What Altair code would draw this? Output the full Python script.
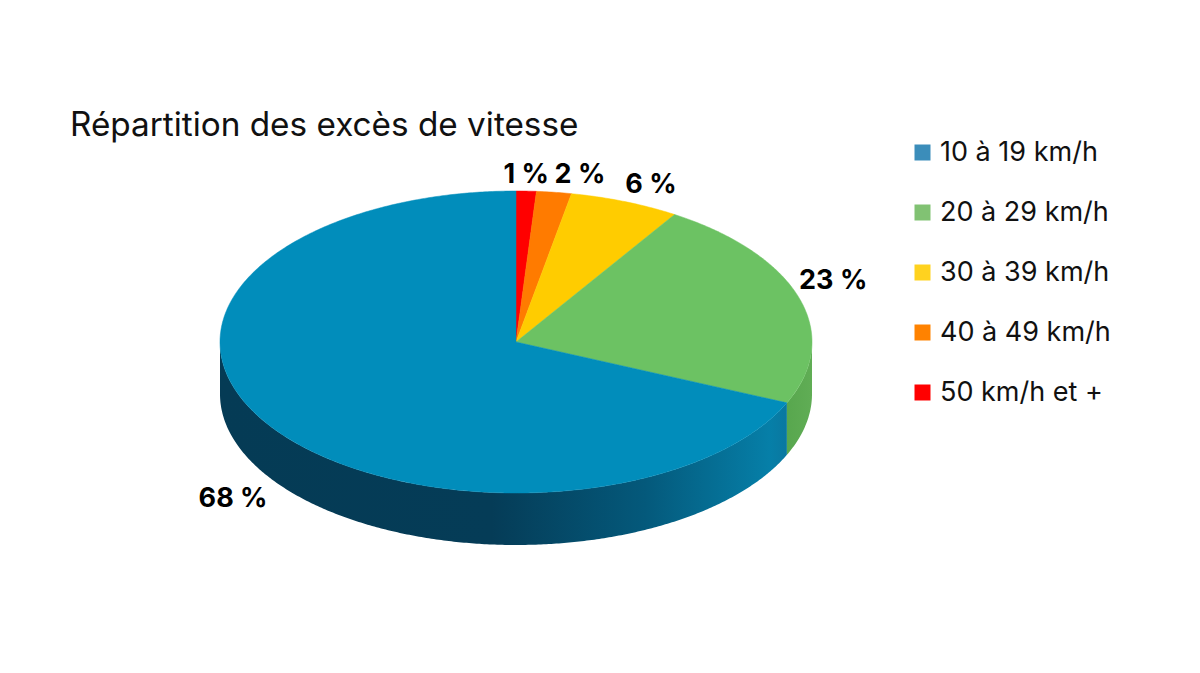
import math
import altair as alt
import pandas as pd

# --- data ---
categories = ["10 à 19 km/h", "20 à 29 km/h", "30 à 39 km/h", "40 à 49 km/h", "50 km/h et +"]
shares = [68.4, 22.6, 6, 1.9, 1.1]
share_labels = ["68 %", "23 %", "6 %", "2 %", "1 %"]
slice_colors = ["#018dbb", "#6cc263", "#ffcc00", "#ff7b00", "#ff0000"]
legend_colors = ["#3b8dba", "#81c273", "#ffd21f", "#ff8200", "#ff0000"]
title_text = "Répartition des excès de vitesse"

# --- geometry / layout constants ---
W, H = 1184, 657
CX, CY, RX, RY, DEPTH = 508, 334, 296, 151, 52
FONT = "Inter"
xscale = alt.Scale(domain=[-CX / RX, (W - CX) / RX], range=[0, W], nice=False, zero=False)
yscale = alt.Scale(domain=[-(H - CY) / RY, CY / RY], range=[H, 0], nice=False, zero=False)
X = lambda f="x": alt.X(f"{f}:Q", scale=xscale, axis=None)
Y = lambda f="y": alt.Y(f"{f}:Q", scale=yscale, axis=None)

# Slices run clockwise from 12 o'clock: smallest class first, largest last
order = list(range(len(shares)))[::-1]
total = sum(shares)
bounds = {}
acc = 0
for i in order:
    bounds[i] = (acc / total * 360, (acc + shares[i]) / total * 360)
    acc += shares[i]


def rim(deg):
    r = math.radians(deg)
    return math.sin(r), math.cos(r)


def arc(a, b, step=0.5):
    n = max(2, int((b - a) / step) + 1)
    return [a + (b - a) * k / n for k in range(n + 1)]


# top face
rows = []
for i in order:
    a, b = bounds[i]
    pts = [(0.0, 0.0)] + [rim(d) for d in arc(a, b)] + [(0.0, 0.0)]
    for k, (x, y) in enumerate(pts):
        rows.append({"cat": categories[i], "x": x, "y": y, "k": k})
top_df = pd.DataFrame(rows)

color_fill = alt.Fill("cat:N", scale=alt.Scale(domain=categories, range=slice_colors), legend=None)
color_stroke = alt.Stroke("cat:N", scale=alt.Scale(domain=categories, range=slice_colors), legend=None)
top = (
    alt.Chart(top_df)
    .mark_line(strokeWidth=0.5, interpolate="linear")
    .encode(x=X(), y=Y(), fill=color_fill, stroke=color_stroke, order="k:Q", detail="cat:N")
)


# side walls (visible lower half only)
def wall(a, b):
    d = DEPTH / RY
    return pd.DataFrame(
        [{"x": rim(t)[0], "y": rim(t)[1], "y2": rim(t)[1] - d} for t in arc(a, b)]
    )


green_a = 90
green_b = bounds[1][1]
blue_a = bounds[0][0]
blue_b = 270

blue_grad = alt.Gradient(
    gradient="linear", x1=0, x2=1, y1=0, y2=0,
    stops=[
        alt.GradientStop(offset=0, color="#053b55"),
        alt.GradientStop(offset=0.48, color="#053c57"),
        alt.GradientStop(offset=0.75, color="#04597b"),
        alt.GradientStop(offset=0.97, color="#067fa8"),
        alt.GradientStop(offset=1, color="#0a78a0"),
    ],
)
green_grad = alt.Gradient(
    gradient="linear", x1=0, x2=1, y1=0, y2=0,
    stops=[
        alt.GradientStop(offset=0, color="#58a74e"),
        alt.GradientStop(offset=1, color="#60ad55"),
    ],
)
side_blue = alt.Chart(wall(blue_a, blue_b)).mark_area(color=blue_grad, interpolate="linear").encode(
    x=X(), y=Y(), y2="y2:Q"
)
side_green = alt.Chart(wall(green_a, green_b)).mark_area(color=green_grad, interpolate="linear").encode(
    x=X(), y=Y(), y2="y2:Q"
)

# share labels, anchored on the rim at the middle of each slice
label_nudges = {0: (-35, 74), 1: (34, -17), 2: (26, -17), 3: (26, -17), 4: (0, -16)}
labels = []
for i in order:
    mx, my = rim(sum(bounds[i]) / 2)
    dx, dy = label_nudges[i]
    labels.append(
        alt.Chart(pd.DataFrame([{"x": mx, "y": my, "t": share_labels[i]}]))
        .mark_text(font=FONT, fontSize=27, fontWeight=700, color="#000000", dx=dx, dy=dy, baseline="middle", align="center")
        .encode(x=X(), y=Y(), text="t:N")
    )

# title
title = (
    alt.Chart(pd.DataFrame([{"t": title_text}]))
    .mark_text(font=FONT, fontSize=33.3, color="#111111", align="left", baseline="middle")
    .encode(x=alt.value(62), y=alt.value(118), text="t:N")
)

# legend carrier
legend_layer = (
    alt.Chart(pd.DataFrame({"cat": categories}))
    .mark_point(filled=True, opacity=0, size=1)
    .encode(
        x=alt.value(0),
        y=alt.value(0),
        color=alt.Color(
            "cat:N",
            scale=alt.Scale(domain=categories, range=legend_colors),
            legend=alt.Legend(
                title=None,
                orient="none",
                legendX=901,
                legendY=131,
                symbolType="square",
                symbolSize=256,
                symbolOpacity=1,
                symbolStrokeWidth=0,
                labelFont=FONT,
                labelFontSize=27,
                labelColor="#111111",
                labelLimit=260,
                labelOffset=4,
                rowPadding=32,
            ),
        ),
    )
)

chart = (
    alt.layer(side_blue, side_green, top, *labels, title, legend_layer)
    .resolve_scale(fill="independent", stroke="independent", color="independent")
    .properties(width=W, height=H, padding=0, autosize=alt.AutoSizeParams(type="none"), background="white")
    .configure_view(stroke=None)
)

chart.save("out.html", embed_options={"renderer": "svg", "actions": False})
